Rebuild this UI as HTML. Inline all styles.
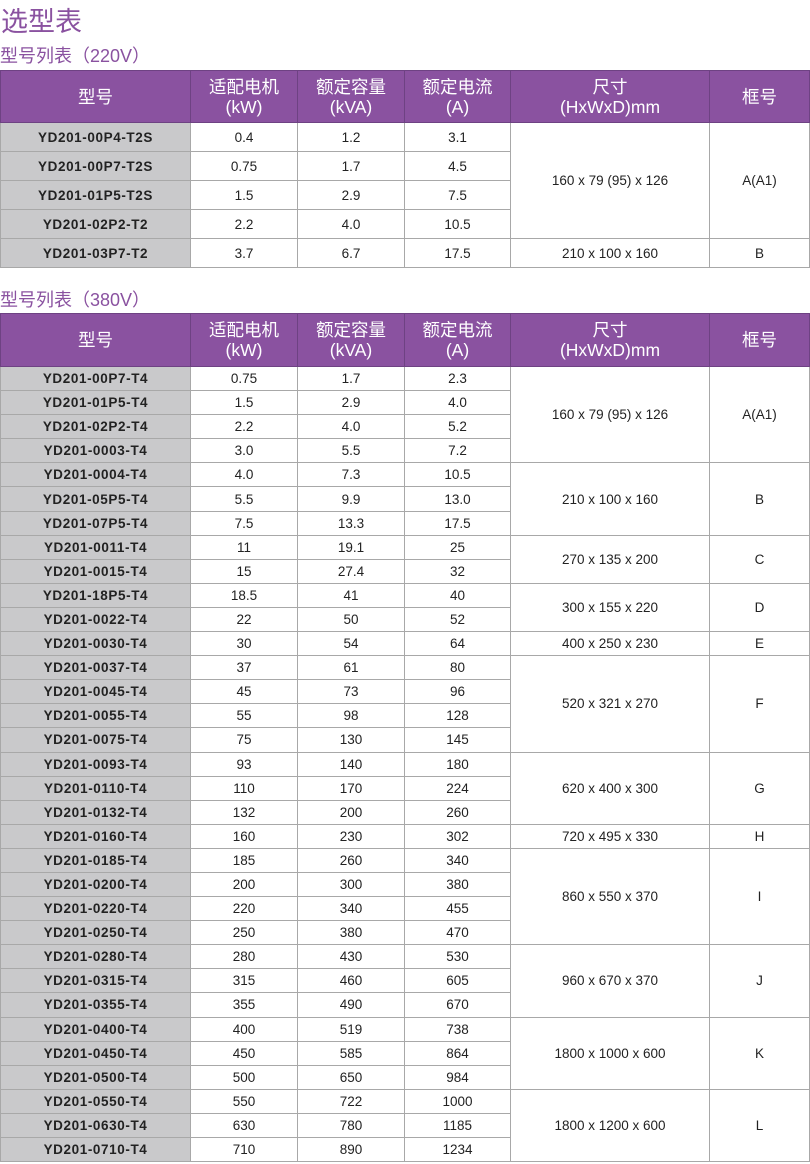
<!DOCTYPE html>
<html><head><meta charset="utf-8"><style>
body{margin:0;width:810px;height:1164px;background:#fff;font-family:"Liberation Sans","Noto Sans CJK SC",sans-serif;position:relative;overflow:hidden}
.t{position:absolute;color:#8a52a0;white-space:nowrap}
table{position:absolute;left:0;border-collapse:collapse;table-layout:fixed;width:809px}
td,th{border:1px solid #a8a8a8;text-align:center;padding:0;font-size:13.5px;color:#222;overflow:hidden;white-space:nowrap}
th{background:#8a52a0;color:#fff;font-weight:normal;font-size:17.5px;line-height:20px;border-color:#6e4283}
td.m{background:#c9c9cb;font-weight:bold;color:#222;letter-spacing:.6px}
</style></head><body>
<div class="t" style="left:1px;top:0px;font-size:27px">选型表</div>
<div class="t" style="left:0;top:42px;font-size:18px">型号列表（220V）</div>
<table style="top:70px">
<colgroup><col style="width:190px"><col style="width:107px"><col style="width:107px"><col style="width:106px"><col style="width:199px"><col style="width:100px"></colgroup>
<tr style="height:52px"><th>型号</th><th>适配电机<br>(kW)</th><th>额定容量<br>(kVA)</th><th>额定电流<br>(A)</th><th>尺寸<br>(HxWxD)mm</th><th>框号</th></tr>
<tr style="height:29px"><td class="m">YD201-00P4-T2S</td><td>0.4</td><td>1.2</td><td>3.1</td><td rowspan="4">160 x 79 (95) x 126</td><td rowspan="4">A(A1)</td></tr>
<tr style="height:29px"><td class="m">YD201-00P7-T2S</td><td>0.75</td><td>1.7</td><td>4.5</td></tr>
<tr style="height:29px"><td class="m">YD201-01P5-T2S</td><td>1.5</td><td>2.9</td><td>7.5</td></tr>
<tr style="height:29px"><td class="m">YD201-02P2-T2</td><td>2.2</td><td>4.0</td><td>10.5</td></tr>
<tr style="height:29px"><td class="m">YD201-03P7-T2</td><td>3.7</td><td>6.7</td><td>17.5</td><td>210 x 100 x 160</td><td>B</td></tr>
</table>
<div class="t" style="left:0;top:286px;font-size:18px">型号列表（380V）</div>
<table style="top:313px">
<colgroup><col style="width:190px"><col style="width:107px"><col style="width:107px"><col style="width:106px"><col style="width:199px"><col style="width:100px"></colgroup>
<tr style="height:53px"><th>型号</th><th>适配电机<br>(kW)</th><th>额定容量<br>(kVA)</th><th>额定电流<br>(A)</th><th>尺寸<br>(HxWxD)mm</th><th>框号</th></tr>
<tr style="height:24.1px"><td class="m">YD201-00P7-T4</td><td>0.75</td><td>1.7</td><td>2.3</td><td rowspan="4">160 x 79 (95) x 126</td><td rowspan="4">A(A1)</td></tr>
<tr style="height:24.1px"><td class="m">YD201-01P5-T4</td><td>1.5</td><td>2.9</td><td>4.0</td></tr>
<tr style="height:24.1px"><td class="m">YD201-02P2-T4</td><td>2.2</td><td>4.0</td><td>5.2</td></tr>
<tr style="height:24.1px"><td class="m">YD201-0003-T4</td><td>3.0</td><td>5.5</td><td>7.2</td></tr>
<tr style="height:24.1px"><td class="m">YD201-0004-T4</td><td>4.0</td><td>7.3</td><td>10.5</td><td rowspan="3">210 x 100 x 160</td><td rowspan="3">B</td></tr>
<tr style="height:24.1px"><td class="m">YD201-05P5-T4</td><td>5.5</td><td>9.9</td><td>13.0</td></tr>
<tr style="height:24.1px"><td class="m">YD201-07P5-T4</td><td>7.5</td><td>13.3</td><td>17.5</td></tr>
<tr style="height:24.1px"><td class="m">YD201-0011-T4</td><td>11</td><td>19.1</td><td>25</td><td rowspan="2">270 x 135 x 200</td><td rowspan="2">C</td></tr>
<tr style="height:24.1px"><td class="m">YD201-0015-T4</td><td>15</td><td>27.4</td><td>32</td></tr>
<tr style="height:24.1px"><td class="m">YD201-18P5-T4</td><td>18.5</td><td>41</td><td>40</td><td rowspan="2">300 x 155 x 220</td><td rowspan="2">D</td></tr>
<tr style="height:24.1px"><td class="m">YD201-0022-T4</td><td>22</td><td>50</td><td>52</td></tr>
<tr style="height:24.1px"><td class="m">YD201-0030-T4</td><td>30</td><td>54</td><td>64</td><td>400 x 250 x 230</td><td>E</td></tr>
<tr style="height:24.1px"><td class="m">YD201-0037-T4</td><td>37</td><td>61</td><td>80</td><td rowspan="4">520 x 321 x 270</td><td rowspan="4">F</td></tr>
<tr style="height:24.1px"><td class="m">YD201-0045-T4</td><td>45</td><td>73</td><td>96</td></tr>
<tr style="height:24.1px"><td class="m">YD201-0055-T4</td><td>55</td><td>98</td><td>128</td></tr>
<tr style="height:24.1px"><td class="m">YD201-0075-T4</td><td>75</td><td>130</td><td>145</td></tr>
<tr style="height:24.1px"><td class="m">YD201-0093-T4</td><td>93</td><td>140</td><td>180</td><td rowspan="3">620 x 400 x 300</td><td rowspan="3">G</td></tr>
<tr style="height:24.1px"><td class="m">YD201-0110-T4</td><td>110</td><td>170</td><td>224</td></tr>
<tr style="height:24.1px"><td class="m">YD201-0132-T4</td><td>132</td><td>200</td><td>260</td></tr>
<tr style="height:24.1px"><td class="m">YD201-0160-T4</td><td>160</td><td>230</td><td>302</td><td>720 x 495 x 330</td><td>H</td></tr>
<tr style="height:24.1px"><td class="m">YD201-0185-T4</td><td>185</td><td>260</td><td>340</td><td rowspan="4">860 x 550 x 370</td><td rowspan="4">I</td></tr>
<tr style="height:24.1px"><td class="m">YD201-0200-T4</td><td>200</td><td>300</td><td>380</td></tr>
<tr style="height:24.1px"><td class="m">YD201-0220-T4</td><td>220</td><td>340</td><td>455</td></tr>
<tr style="height:24.1px"><td class="m">YD201-0250-T4</td><td>250</td><td>380</td><td>470</td></tr>
<tr style="height:24.1px"><td class="m">YD201-0280-T4</td><td>280</td><td>430</td><td>530</td><td rowspan="3">960 x 670 x 370</td><td rowspan="3">J</td></tr>
<tr style="height:24.1px"><td class="m">YD201-0315-T4</td><td>315</td><td>460</td><td>605</td></tr>
<tr style="height:24.1px"><td class="m">YD201-0355-T4</td><td>355</td><td>490</td><td>670</td></tr>
<tr style="height:24.1px"><td class="m">YD201-0400-T4</td><td>400</td><td>519</td><td>738</td><td rowspan="3">1800 x 1000 x 600</td><td rowspan="3">K</td></tr>
<tr style="height:24.1px"><td class="m">YD201-0450-T4</td><td>450</td><td>585</td><td>864</td></tr>
<tr style="height:24.1px"><td class="m">YD201-0500-T4</td><td>500</td><td>650</td><td>984</td></tr>
<tr style="height:24.1px"><td class="m">YD201-0550-T4</td><td>550</td><td>722</td><td>1000</td><td rowspan="3">1800 x 1200 x 600</td><td rowspan="3">L</td></tr>
<tr style="height:24.1px"><td class="m">YD201-0630-T4</td><td>630</td><td>780</td><td>1185</td></tr>
<tr style="height:24.1px"><td class="m">YD201-0710-T4</td><td>710</td><td>890</td><td>1234</td></tr>
</table>
</body></html>
